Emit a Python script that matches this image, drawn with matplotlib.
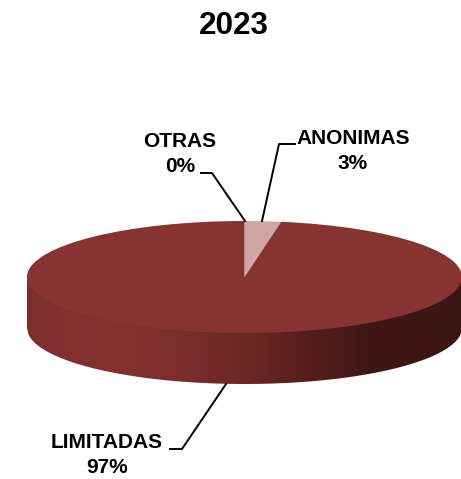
import numpy as np
import matplotlib
matplotlib.use("Agg")
import matplotlib.pyplot as plt
from matplotlib.colors import LinearSegmentedColormap
from matplotlib.patches import Polygon

plt.rcParams['font.family'] = ['Liberation Sans', 'DejaVu Sans']

W, H = 461, 479

categories = ["ANONIMAS", "LIMITADAS", "OTRAS"]
shares = [2.7, 97.3, 0.0]
slice_colors = ["#d0a6a5", "#873331", "#873331"]

fig = plt.figure(figsize=(W / 100, H / 100), dpi=100)
depth = 0.91

# the pie sits in an axes stretched flat, so the circle becomes an ellipse
ax = fig.add_axes([27 / W, (H - 384) / H, 435 / W, 163 / H])
ax.pie(shares, colors=slice_colors, startangle=90, counterclock=False, radius=1,
       wedgeprops={'linewidth': 0})
ax.set_aspect('auto')
ax.axis('off')

# side wall of the disc, a horizontal gradient running up behind the top face
rim = np.linspace(-1, 1, 300)
lower = -np.sqrt(1 - rim ** 2)
wall = np.column_stack([np.r_[rim, rim[::-1]], np.r_[np.zeros_like(rim), lower[::-1] - depth]])
cmap = LinearSegmentedColormap.from_list("wall", [
    (0.00, "#7b2e2c"), (0.04, "#7f302e"), (0.20, "#843130"), (0.35, "#7c2e2c"),
    (0.50, "#6c2725"), (0.65, "#561d1b"), (0.78, "#3f1714"), (1.00, "#3a1613"),
])
patch = Polygon(wall, closed=True, facecolor='none', edgecolor='none')
ax.add_patch(patch)
img = ax.imshow(np.linspace(0, 1, 434)[None, :], cmap=cmap, aspect='auto',
                extent=(-1, 1, -1 - depth, 0), zorder=0)
img.set_clip_path(patch)
ax.set_xlim(-1, 1)
ax.set_ylim(-1 - depth, 1)


def px(x, y):
    return x / W, 1 - y / H


# leader lines
for pts in ([(201, 173), (212, 173), (245, 221)],
            [(295, 144), (279, 144), (262, 221)],
            [(170, 449), (182, 449), (226, 384)]):
    xy = [px(*p) for p in pts]
    fig.add_artist(plt.Line2D([p[0] for p in xy], [p[1] for p in xy],
                              color='black', lw=1.4, transform=fig.transFigure))

# labels
label_pos = {"OTRAS": (180, 154), "ANONIMAS": (353, 151), "LIMITADAS": (107, 455)}
for name, val in zip(categories, shares):
    x, y = px(*label_pos[name])
    fig.text(x, y, f"{name}\n{round(val)}%", ha='center', va='center',
             fontsize=15, fontweight='bold', linespacing=1.35, color='black')

x, y = px(234, 26)
fig.text(x, y, "2023", ha='center', va='center', fontsize=22.7, fontweight='bold')

fig.savefig("out.png", dpi=100)
